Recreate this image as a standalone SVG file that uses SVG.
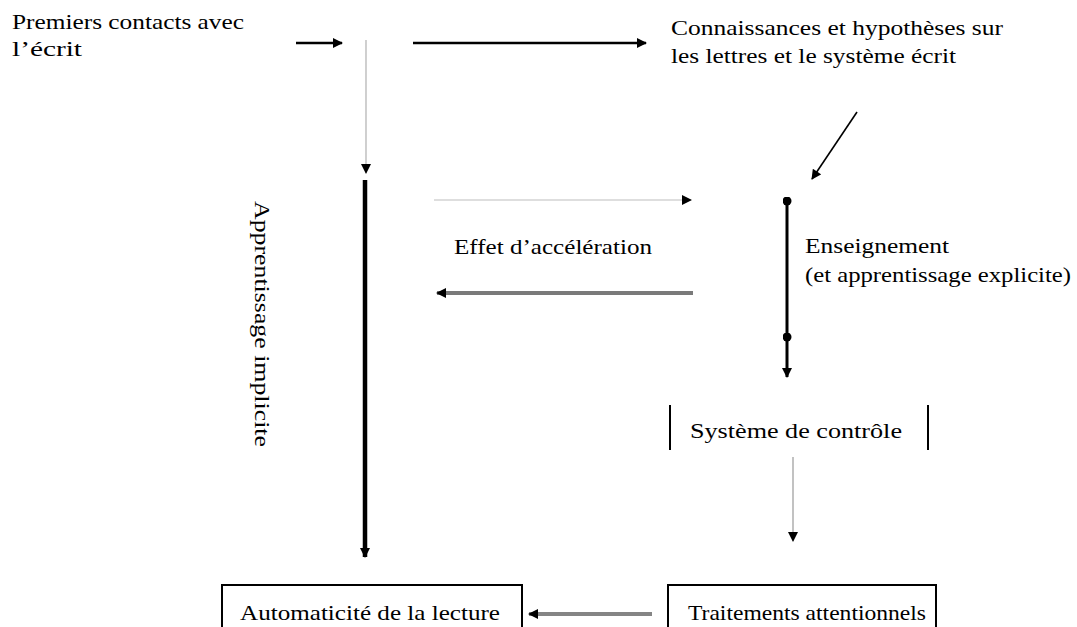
<svg xmlns="http://www.w3.org/2000/svg" width="1077" height="627" viewBox="0 0 1077 627">
  <style>
    .t { font-family: "Liberation Serif", "Times New Roman", serif; font-size: 21px; fill: #000; }
    .box { fill: #fff; stroke: #000; stroke-width: 2; }
    .k { fill: none; stroke: #000; }
  </style>
  <defs>
    <marker id="head" viewBox="0 0 10 10" refX="9" refY="5" markerWidth="11" markerHeight="10" markerUnits="userSpaceOnUse" orient="auto">
      <path d="M0,0 L10,5 L0,10 z" fill="#000"/>
    </marker>
    <marker id="dot" viewBox="0 0 10 10" refX="5" refY="5" markerWidth="9" markerHeight="9" markerUnits="userSpaceOnUse">
      <circle cx="5" cy="5" r="5" fill="#000"/>
    </marker>
  </defs>
  <rect width="1077" height="627" fill="#fff"/>

  <g id="connectors">
    <!-- short arrow after the first label -->
    <line class="k" x1="296" y1="43" x2="342" y2="43" stroke-width="2.5" marker-end="url(#head)"/>
    <!-- long top arrow -->
    <line class="k" x1="413" y1="43" x2="646" y2="43" stroke-width="2.5" marker-end="url(#head)"/>
    <!-- thin grey drop to the implicit-learning branch -->
    <line x1="366" y1="40" x2="366" y2="173" stroke="#b0b0b0" stroke-width="1.2" marker-end="url(#head)"/>
    <!-- thick implicit-learning arrow -->
    <line class="k" x1="365" y1="180" x2="365" y2="557" stroke-width="4.5" marker-end="url(#head)"/>
    <!-- diagonal arrow from knowledge to teaching -->
    <line class="k" x1="857" y1="112" x2="812" y2="179" stroke-width="1.6" marker-end="url(#head)"/>
    <!-- acceleration arrows -->
    <line x1="434" y1="200" x2="691" y2="200" stroke="#bdbdbd" stroke-width="1.2" marker-end="url(#head)"/>
    <line x1="693" y1="293" x2="437" y2="293" stroke="#7a7a7a" stroke-width="4" marker-end="url(#head)"/>
    <!-- teaching line -->
    <line class="k" x1="787" y1="201" x2="787" y2="337" stroke-width="3" marker-start="url(#dot)" marker-end="url(#dot)"/>
    <line class="k" x1="787" y1="337" x2="787" y2="377" stroke-width="3" marker-end="url(#head)"/>
    <!-- control system to attentional processing -->
    <line x1="793" y1="457" x2="793" y2="541" stroke="#999" stroke-width="1.2" marker-end="url(#head)"/>
    <!-- attentional processing to automaticity -->
    <line x1="652" y1="614" x2="529" y2="614" stroke="#858585" stroke-width="4" marker-end="url(#head)"/>
  </g>

  <g id="premiers-contacts">
    <text class="t" x="12" y="29" textLength="232" lengthAdjust="spacingAndGlyphs">Premiers contacts avec</text>
    <text class="t" x="12" y="56" textLength="70" lengthAdjust="spacingAndGlyphs">l’écrit</text>
  </g>

  <g id="connaissances">
    <text class="t" x="671" y="35" textLength="332" lengthAdjust="spacingAndGlyphs">Connaissances et hypothèses sur</text>
    <text class="t" x="671" y="63" textLength="285" lengthAdjust="spacingAndGlyphs">les lettres et le système écrit</text>
  </g>

  <g id="apprentissage-implicite">
    <text class="t" transform="translate(255 201) rotate(90)" x="0" y="0" textLength="246" lengthAdjust="spacingAndGlyphs">Apprentissage implicite</text>
  </g>

  <g id="effet-acceleration">
    <text class="t" x="454" y="254" textLength="198" lengthAdjust="spacingAndGlyphs">Effet d’accélération</text>
  </g>

  <g id="enseignement">
    <text class="t" x="805" y="253" textLength="144" lengthAdjust="spacingAndGlyphs">Enseignement</text>
    <text class="t" x="805" y="282" textLength="266" lengthAdjust="spacingAndGlyphs">(et apprentissage explicite)</text>
  </g>

  <g id="systeme-controle">
    <line class="k" x1="670" y1="405" x2="670" y2="450" stroke-width="2"/>
    <line class="k" x1="928" y1="405" x2="928" y2="450" stroke-width="2"/>
    <text class="t" x="690" y="438" textLength="212" lengthAdjust="spacingAndGlyphs">Système de contrôle</text>
  </g>

  <g id="automaticite">
    <rect class="box" x="222" y="585" width="300" height="60"/>
    <text class="t" x="240" y="620" textLength="260" lengthAdjust="spacingAndGlyphs">Automaticité de la lecture</text>
  </g>

  <g id="traitements">
    <rect class="box" x="668" y="585" width="268" height="60"/>
    <text class="t" x="688" y="620" textLength="238" lengthAdjust="spacingAndGlyphs">Traitements attentionnels</text>
  </g>
</svg>
